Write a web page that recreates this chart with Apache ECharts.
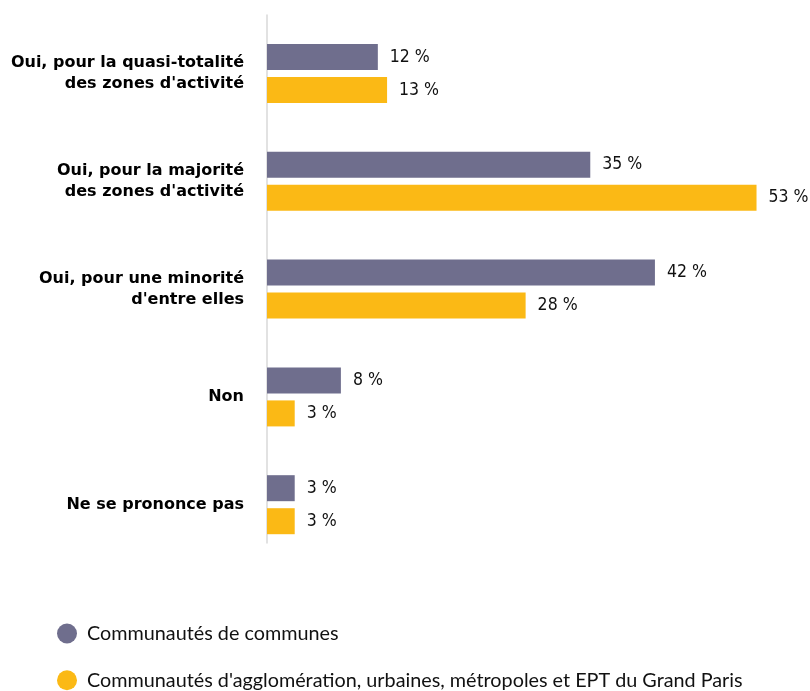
<!DOCTYPE html>
<html>
<head>
<meta charset="utf-8">
<script src="https://cdn.jsdelivr.net/npm/echarts@6/dist/echarts.min.js"></script>
<style>
  html, body { margin: 0; padding: 0; background: #fff; }
  #chart { width: 810px; height: 691px; }
</style>
</head>
<body>
<div id="chart"></div>
<script>
(function(){

    // catégories de réponses
    var categories = [
        "Oui, pour la quasi-totalité\ndes zones d'activité",
        "Oui, pour la majorité\ndes zones d'activité",
        "Oui, pour une minorité\nd'entre elles",
        "Non",
        "Ne se prononce pas"
    ];

    var seriesNames = [
        "Communautés de communes",
        "Communautés d'agglomération, urbaines, métropoles et EPT du Grand Paris"
    ];

    // valeurs en %
    var ccValues = [12, 35, 42, 8, 3];
    var caValues = [13, 53, 28, 3, 3];

    var colors = ['#6f6e8d', '#fbb915'];

    var myChart = echarts.init(document.getElementById('chart'));

    var barLabel = {
        show: true,
        position: 'right',
        distance: 12,
        formatter: '{c} %',
        fontFamily: "'DejaVu Sans Condensed', 'Liberation Sans Narrow', Roboto, sans-serif",
        fontSize: 17.5,
        color: '#111'
    };

    var option = {
        animation: false,
        grid: [
            { left: 267, top: 19.6, width: 508, height: 539 },
            // seulement pour le trait vertical
            { left: 267, top: 15, width: 100, height: 528 }
        ],
        xAxis: [
            { type: 'value', gridIndex: 0, min: 0, max: 55, show: false },
            { type: 'value', gridIndex: 1, show: false }
        ],
        yAxis: [
            {
                type: 'category',
                gridIndex: 0,
                data: categories,
                inverse: true,
                axisLine: { show: false },
                axisTick: { show: false },
                axisLabel: {
                    margin: 23,
                    fontFamily: "'DejaVu Sans', sans-serif",
                    fontWeight: 'bold',
                    fontSize: 16,
                    lineHeight: 21,
                    color: '#000'
                }
            },
            {
                type: 'value',
                gridIndex: 1,
                axisLine: { show: true, lineStyle: { color: '#d9d9d9', width: 1.5 } },
                axisLabel: { show: false },
                axisTick: { show: false },
                splitLine: { show: false }
            }
        ],
        legend: {
            data: seriesNames,
            orient: 'vertical',
            left: 57,
            top: 623.5,
            padding: 0,
            icon: 'circle',
            itemWidth: 20,
            itemHeight: 20,
            itemGap: 26.7,
            textStyle: {
                fontFamily: 'Lato',
                fontSize: 19.8,
                color: '#111',
                padding: [0, 0, 0, 5]
            }
        },
        series: [
            {
                name: seriesNames[0],
                type: 'bar',
                data: ccValues,
                barWidth: 26,
                barGap: '27%',
                itemStyle: { color: colors[0] },
                label: barLabel
            },
            {
                name: seriesNames[1],
                type: 'bar',
                data: caValues,
                barWidth: 26,
                barGap: '27%',
                itemStyle: { color: colors[1] },
                label: barLabel
            }
        ]
    };

    myChart.setOption(option);

})();
</script>
</body>
</html>
